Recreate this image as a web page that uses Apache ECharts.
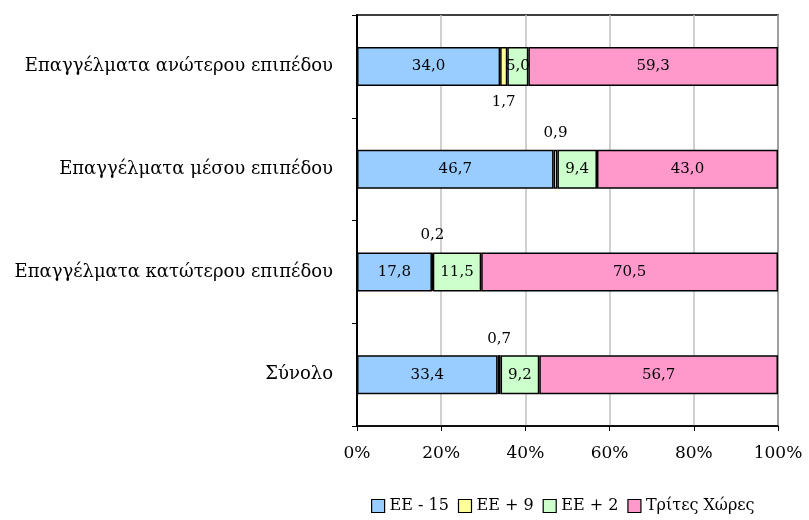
<!DOCTYPE html>
<html><head><meta charset="utf-8">
<script src="https://cdn.jsdelivr.net/npm/echarts@6/dist/echarts.min.js"></script>
<style>html,body{margin:0;padding:0;background:#fff}#c{width:809px;height:520px}</style>
</head><body><div id="c"></div>
<script>
var categories = ['Επαγγέλματα ανώτερου επιπέδου','Επαγγέλματα μέσου επιπέδου','Επαγγέλματα κατώτερου επιπέδου','Σύνολο'];
var seriesNames = ['ΕΕ - 15','ΕΕ + 9','ΕΕ + 2','Τρίτες Χώρες'];
var ee15 = [34.0, 46.7, 17.8, 33.4];
var ee9 = [1.7, 0.9, 0.2, 0.7];
var ee2 = [5.0, 9.4, 11.5, 9.2];
var third = [59.3, 43.0, 70.5, 56.7];
var ee9LabelPos = ['bottom','top','top','top'];
var colors = ['#99ccff','#ffff99','#ccffcc','#ff99cc'];
var FONT = '"DejaVu Serif",serif';

function fmt(v){ return v.toFixed(1).replace('.', ','); }

function mk(name, vals, color, isSmall){
  return {
    name: name, type: 'bar', stack: 'total', barWidth: 39,
    itemStyle: {color: color, borderColor: '#000', borderWidth: 1.5},
    label: {show: true, position: 'inside', color: '#000', fontFamily: FONT, fontSize: 15,
      formatter: function(p){ return fmt(p.value); }},
    data: vals.map(function(v, i){
      var d = {value: v};
      if (isSmall) d.label = {position: ee9LabelPos[i], distance: 9};
      return d;
    })
  };
}

var chart = echarts.init(document.getElementById('c'), null, {renderer: 'canvas'});
chart.setOption({
  animation: false,
  backgroundColor: '#fff',
  grid: {left: 357, right: 31, top: 15, bottom: 94, show: true, borderColor: '#000', borderWidth: 1.5},
  legend: {
    bottom: 1, left: 366, itemWidth: 13, itemHeight: 13, itemGap: 9,
    textStyle: {fontFamily: FONT, fontSize: 16, color: '#000'},
    icon: 'rect',
    itemStyle: {borderColor: '#000', borderWidth: 1.2},
    data: seriesNames
  },
  xAxis: {
    type: 'value', min: 0, max: 100, interval: 20,
    axisLine: {show: true, lineStyle: {color: '#000', width: 1.5}},
    axisTick: {show: true, length: 5, lineStyle: {color: '#000'}},
    splitLine: {show: true, lineStyle: {color: '#c0c0c0', width: 1.5}},
    axisLabel: {formatter: function(v){ return v + '%'; }, fontFamily: FONT, fontSize: 17, color: '#000', margin: 19}
  },
  yAxis: {
    type: 'category', inverse: true, data: categories,
    axisLine: {show: true, lineStyle: {color: '#000', width: 2}},
    axisTick: {show: true, length: 5, lineStyle: {color: '#000'}},
    axisLabel: {fontFamily: FONT, fontSize: 18, color: '#000', margin: 24}
  },
  series: [
    mk(seriesNames[0], ee15, colors[0], false),
    mk(seriesNames[1], ee9, colors[1], true),
    mk(seriesNames[2], ee2, colors[2], false),
    mk(seriesNames[3], third, colors[3], false)
  ]
});
</script></body></html>
